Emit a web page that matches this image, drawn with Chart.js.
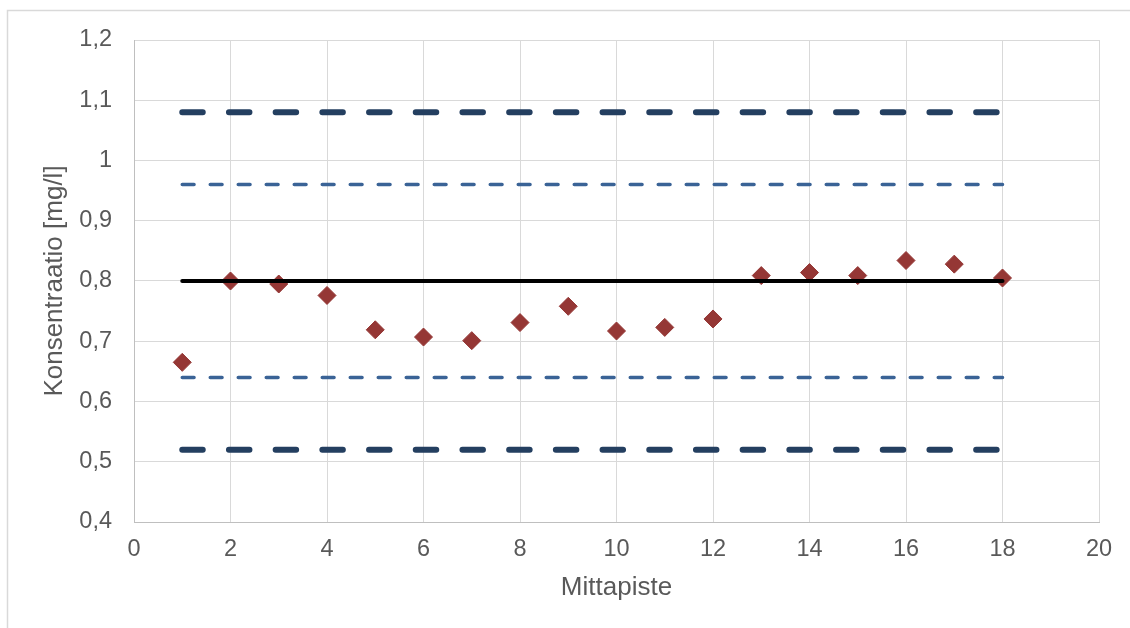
<!DOCTYPE html>
<html lang="fi">
<head>
<meta charset="utf-8">
<title>Konsentraatio mittapisteittäin</title>
<script src="https://cdn.jsdelivr.net/npm/chart.js@4/dist/chart.umd.min.js"></script>
<style>
  html, body { margin: 0; padding: 0; background: #ffffff; }
  #wrap { position: relative; width: 1130px; height: 628px; }
  canvas { display: block; }
</style>
</head>
<body>
<div id="wrap"><canvas id="chart" width="1130" height="628"></canvas></div>
<script>
// Mittapisteet ja mitatut konsentraatiot (mg/l)
const mittapisteet = [1, 2, 3, 4, 5, 6, 7, 8, 9, 10, 11, 12, 13, 14, 15, 16, 17, 18];
const konsentraatiot = [0.665, 0.800, 0.795, 0.776, 0.719, 0.707, 0.701, 0.731, 0.758,
                        0.717, 0.723, 0.737, 0.809, 0.814, 0.809, 0.834, 0.828, 0.805];

// Tavoitetaso sekä varoitus- ja toimenpiderajat
const tavoitetaso = [0.8];
const varoitusrajat = [0.64, 0.96];
const toimenpiderajat = [0.52, 1.08];

// Akselien asteikot
const xAsteikko = [0, 20, 2];
const yAsteikko = [0.4, 1.2, 0.1];

const ensimmainen = mittapisteet[0];
const viimeinen = mittapisteet[mittapisteet.length - 1];
const vaakaviiva = (taso) => [{ x: ensimmainen, y: taso }, { x: viimeinen, y: taso }];

const pisteet = mittapisteet.map((m, i) => ({ x: m, y: konsentraatiot[i] }));

const viivaPohja = {
  type: 'line', pointRadius: 0, pointHoverRadius: 0, fill: false,
  borderCapStyle: 'round', tension: 0
};

const datasets = [];
toimenpiderajat.forEach((taso) => datasets.push(Object.assign({}, viivaPohja, {
  label: 'Toimenpideraja', data: vaakaviiva(taso),
  borderColor: '#243f60', borderWidth: 6, borderDash: [20.5, 26.2]
})));
varoitusrajat.forEach((taso) => datasets.push(Object.assign({}, viivaPohja, {
  label: 'Varoitusraja', data: vaakaviiva(taso),
  borderColor: '#3a6396', borderWidth: 3.5, borderDash: [11.8, 16.2]
})));
tavoitetaso.forEach((taso) => datasets.push(Object.assign({}, viivaPohja, {
  label: 'Tavoite', data: vaakaviiva(taso),
  borderColor: '#000000', borderWidth: 4
})));
datasets.push({
  type: 'scatter', label: 'Konsentraatio', data: pisteet,
  pointStyle: 'rectRot', pointRadius: 9, pointHoverRadius: 9,
  backgroundColor: '#953735', borderColor: '#953735', borderWidth: 1
});

// Kaavion ympärille piirrettävä ohut kehys
const kehys = {
  id: 'kehys',
  beforeDraw(chart) {
    const ctx = chart.ctx;
    ctx.save();
    ctx.fillStyle = '#ffffff';
    ctx.fillRect(0, 0, chart.width, chart.height);
    ctx.strokeStyle = '#d9d9d9';
    ctx.lineWidth = 1.5;
    ctx.beginPath();
    ctx.moveTo(7.5, chart.height);
    ctx.lineTo(7.5, 10.5);
    ctx.lineTo(chart.width, 10.5);
    ctx.stroke();
    ctx.restore();
  }
};

const tekstiVari = '#595959';
const fontti = 'Liberation Sans, Arial, sans-serif';

new Chart(document.getElementById('chart'), {
  type: 'scatter',
  data: { datasets },
  options: {
    responsive: false,
    animation: false,
    layout: { padding: { top: 40, right: 31, bottom: 0, left: 0 } },
    plugins: { legend: { display: false }, tooltip: { enabled: false } },
    scales: {
      x: {
        type: 'linear', position: 'bottom',
        min: xAsteikko[0], max: xAsteikko[1],
        afterFit: (s) => { s.height = 106; },
        ticks: {
          stepSize: xAsteikko[2], padding: 13, color: tekstiVari,
          font: { family: fontti, size: 23.5 }, maxRotation: 0
        },
        grid: { color: '#d9d9d9', lineWidth: 1, drawTicks: false },
        border: { color: '#bfbfbf', width: 1 },
        title: {
          display: true, text: 'Mittapiste', color: tekstiVari,
          font: { family: fontti, size: 26 }, padding: { top: 0, bottom: 25 }
        }
      },
      y: {
        type: 'linear', position: 'left',
        min: yAsteikko[0], max: yAsteikko[1],
        afterFit: (s) => { s.width = 134; },
        ticks: {
          stepSize: yAsteikko[2], padding: 22, color: tekstiVari,
          font: { family: fontti, size: 23.5 },
          callback: (v) => (Math.round(v * 10) / 10).toString().replace('.', ',')
        },
        grid: { color: '#d9d9d9', lineWidth: 1, drawTicks: false },
        border: { color: '#bfbfbf', width: 1 },
        title: {
          display: true, text: 'Konsentraatio [mg/l]', color: tekstiVari,
          font: { family: fontti, size: 26 }, padding: { top: 39, bottom: 0 }
        }
      }
    }
  },
  plugins: [kehys]
});
</script>
</body>
</html>
